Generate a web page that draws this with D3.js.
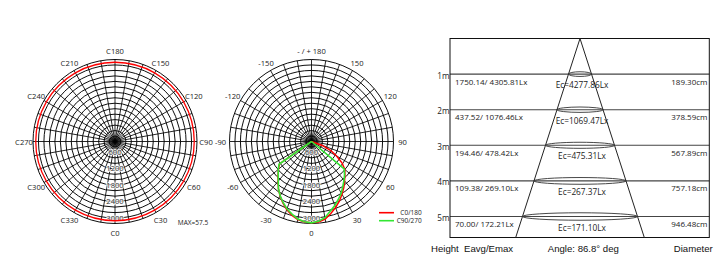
<!DOCTYPE html>
<html>
<head>
<meta charset="utf-8">
<script src="https://cdn.jsdelivr.net/npm/d3@7"></script>
<style>
  body { margin: 0; background: #fff; }
  svg { display: block; }
  text { font-family: "Open Sans", sans-serif; fill: #222; }
</style>
</head>
<body>
<div id="chart"></div>
<script>
// polar diagram labels
const labelAngles = [0, 30, 60, 90, 120, 150, 180, 210, 240, 270, 300, 330];
const cPlaneLabels = ["C0", "C30", "C60", "C90", "C120", "C150", "C180", "C210", "C240", "C270", "C300", "C330"];
const gammaLabels = ["0", "30", "60", "90", "120", "150", "- / + 180", "-150", "-120", "-90", "-60", "-30"];
const ringLabels = [600, 1200, 1800, 2400, 3000];

// left diagram: isocandela ring per C plane
const cPlaneAngles = [0, 30, 60, 90, 120, 150, 180, 210, 240, 270, 300, 330];
const cPlaneValues = [2900, 2900, 2900, 2900, 2900, 2900, 2900, 2900, 2900, 2900, 2900, 2900];

// right diagram: intensity vs gamma
const gammaAngles = [-90, -85, -80, -75, -70, -65, -60, -55, -50, -45, -40, -35, -30, -25, -20, -15, -10, -5,
  0, 5, 10, 15, 20, 25, 30, 35, 40, 45, 50, 55, 60, 65, 70, 75, 80, 85, 90];
const c0_180 = [0, 0, 0, 0, 0, 0, 0, 1430, 1580, 1730, 1900, 2110, 2300, 2480, 2650, 2790, 2900, 2960,
  2975, 2955, 2880, 2730, 2570, 2410, 2230, 2060, 1880, 1730, 1590, 1360, 1060, 780, 420, 0, 0, 0, 0];
const c90_270 = [0, 0, 0, 0, 0, 0, 0, 1450, 1590, 1720, 1890, 2110, 2290, 2460, 2620, 2750, 2880, 2950,
  2975, 2930, 2830, 2640, 2490, 2330, 2180, 2000, 1850, 1710, 1560, 0, 0, 0, 0, 0, 0, 0, 0];

// illuminance table
const heights = [1, 2, 3, 4, 5];
const eavgEmax = ["1750.14/ 4305.81Lx", "437.52/ 1076.46Lx", "194.46/ 478.42Lx", "109.38/ 269.10Lx", "70.00/ 172.21Lx"];
const ecValues = ["Ec=4277.86Lx", "Ec=1069.47Lx", "Ec=475.31Lx", "Ec=267.37Lx", "Ec=171.10Lx"];
const diameters = ["189.30cm", "378.59cm", "567.89cm", "757.18cm", "946.48cm"];
const beamAngle = "86.8°";

const w = 720, h = 280;
const svg = d3.select("#chart").append("svg").attr("width", w).attr("height", h);

const rScale = d3.scaleLinear().domain([0, 3000]).range([0, 82]);
const rad = (deg) => deg * Math.PI / 180;
// gamma 0 points down, positive to the right
const px = (deg, r) => r * Math.sin(rad(deg));
const py = (deg, r) => r * Math.cos(rad(deg));

function drawPolar(cx, cy, labels) {
  const g = svg.append("g").attr("transform", `translate(${cx},${cy})`);
  g.selectAll(".ring")
    .data(d3.range(200, 3001, 200))
    .enter().append("circle")
    .attr("r", (d) => rScale(d))
    .attr("fill", "none")
    .attr("stroke", "#000")
    .attr("stroke-width", 0.95);
  g.selectAll(".spoke")
    .data(d3.range(0, 360, 10))
    .enter().append("line")
    .attr("x1", 0).attr("y1", 0)
    .attr("x2", (d) => px(d, rScale(3000)))
    .attr("y2", (d) => py(d, rScale(3000)))
    .attr("stroke", "#000")
    .attr("stroke-width", 0.85);
  g.selectAll(".alabel")
    .data(labelAngles)
    .enter().append("text")
    .attr("x", (d) => px(d, 91))
    .attr("y", (d) => py(d, 91))
    .attr("text-anchor", "middle")
    .attr("dominant-baseline", "central")
    .style("font-size", "7.6px")
    .text((d, i) => labels[i]);
  g.selectAll(".rlabel")
    .data(ringLabels)
    .enter().append("text")
    .attr("x", 0)
    .attr("y", (d) => rScale(d) - 6)
    .attr("text-anchor", "middle")
    .attr("dominant-baseline", "central")
    .style("font-size", "7.6px")
    .style("fill", "#333")
    .style("stroke", "#fff")
    .style("stroke-width", 1.8)
    .style("stroke-opacity", 0.8)
    .style("paint-order", "stroke")
    .text((d) => d);
  return g;
}

// left diagram
const left = drawPolar(115, 141.5, cPlaneLabels);
const ringLine = d3.lineRadial()
  .angle((d) => Math.PI - rad(d[0]))
  .radius((d) => rScale(d[1]))
  .curve(d3.curveCatmullRomClosed);
left.append("path")
  .datum(cPlaneAngles.map((a, i) => [a, cPlaneValues[i]]))
  .attr("d", ringLine)
  .attr("fill", "none")
  .attr("stroke", "#ff0000")
  .attr("stroke-width", 1.3);
svg.append("text")
  .attr("x", 193).attr("y", 222)
  .attr("text-anchor", "middle")
  .attr("dominant-baseline", "central")
  .style("font-size", "6.5px")
  .text("MAX=57.5");

// right diagram
const right = drawPolar(311.5, 141.5, gammaLabels);
const curveLine = d3.lineRadial()
  .angle((d) => Math.PI - rad(d[0]))
  .radius((d) => rScale(d[1]));
right.append("path")
  .datum(gammaAngles.map((a, i) => [a, c0_180[i]]))
  .attr("d", curveLine)
  .attr("fill", "none")
  .attr("stroke", "#ff0000")
  .attr("stroke-width", 1.5);
right.append("path")
  .datum(gammaAngles.map((a, i) => [a, c90_270[i]]))
  .attr("d", curveLine)
  .attr("fill", "none")
  .attr("stroke", "#33e633")
  .attr("stroke-width", 1.6);

// legend
const legendItems = [["C0/180", "#ff0000"], ["C90/270", "#33e633"]];
legendItems.forEach((d, i) => {
  const y = 212.7 + i * 8;
  svg.append("line")
    .attr("x1", 379).attr("x2", 394).attr("y1", y).attr("y2", y)
    .attr("stroke", d[1]).attr("stroke-width", 1.6);
  svg.append("text")
    .attr("x", 421.7).attr("y", y)
    .attr("text-anchor", "end")
    .attr("dominant-baseline", "central")
    .style("font-size", "6.5px")
    .text(d[0]);
});

// table with light cone
const tTop = 38.5, tBottom = 237.5, tX0 = 450, tX1 = 709.3, apexX = 580;
const yScale = d3.scaleLinear().domain([0, 5]).range([tTop, 216.5]);
const halfBottom = 64.3;
const coneHalf = (y) => halfBottom * (y - tTop) / (tBottom - tTop);

const table = svg.append("g");
table.selectAll(".hline")
  .data(heights)
  .enter().append("line")
  .attr("x1", tX0).attr("x2", tX1)
  .attr("y1", (d) => yScale(d)).attr("y2", (d) => yScale(d))
  .attr("stroke", "#444")
  .attr("stroke-width", 1.1);
table.append("rect")
  .attr("x", tX0).attr("y", tTop)
  .attr("width", tX1 - tX0).attr("height", tBottom - tTop)
  .attr("fill", "none")
  .attr("stroke", "#111")
  .attr("stroke-width", 1);
[-1, 1].forEach((s) => {
  table.append("line")
    .attr("x1", apexX).attr("y1", tTop)
    .attr("x2", apexX + s * halfBottom).attr("y2", tBottom)
    .attr("stroke", "#222")
    .attr("stroke-width", 1);
});
table.selectAll(".ell")
  .data(heights)
  .enter().append("ellipse")
  .attr("cx", apexX)
  .attr("cy", (d) => yScale(d))
  .attr("rx", (d) => coneHalf(yScale(d)))
  .attr("ry", (d) => 2 + coneHalf(yScale(d)) * 0.03)
  .attr("fill", "none")
  .attr("stroke", "#333")
  .attr("stroke-width", 0.9);

table.selectAll(".hlabel")
  .data(heights)
  .enter().append("text")
  .attr("x", 449.5)
  .attr("y", (d) => yScale(d) + 1)
  .attr("text-anchor", "end")
  .attr("dominant-baseline", "central")
  .style("font-size", "8.2px")
  .text((d) => d + "m");
table.selectAll(".eavg")
  .data(heights)
  .enter().append("text")
  .attr("x", 455)
  .attr("y", (d) => yScale(d) + 7)
  .attr("dominant-baseline", "central")
  .style("font-size", "8px")
  .text((d, i) => eavgEmax[i]);
table.selectAll(".ec")
  .data(heights)
  .enter().append("text")
  .attr("x", 582)
  .attr("y", (d) => yScale(d) + 10.5)
  .attr("text-anchor", "middle")
  .attr("dominant-baseline", "central")
  .style("font-size", "8.3px")
  .text((d, i) => ecValues[i]);
table.selectAll(".diam")
  .data(heights)
  .enter().append("text")
  .attr("x", 707.5)
  .attr("y", (d) => yScale(d) + 7)
  .attr("text-anchor", "end")
  .attr("dominant-baseline", "central")
  .style("font-size", "8px")
  .text((d, i) => diameters[i]);

const foot = [["Height  Eavg/Emax", 431, "start"], ["Angle: " + beamAngle + " deg", 583.3, "middle"], ["Diameter", 712.7, "end"]];
foot.forEach((d) => {
  svg.append("text")
    .attr("x", d[1]).attr("y", 248.3)
    .attr("text-anchor", d[2])
    .attr("dominant-baseline", "central")
    .style("font-family", "'Liberation Sans', Arial, sans-serif")
    .style("font-size", "9.6px")
    .style("fill", "#111")
    .style("white-space", "pre")
    .text(d[0]);
});
</script>
</body>
</html>
